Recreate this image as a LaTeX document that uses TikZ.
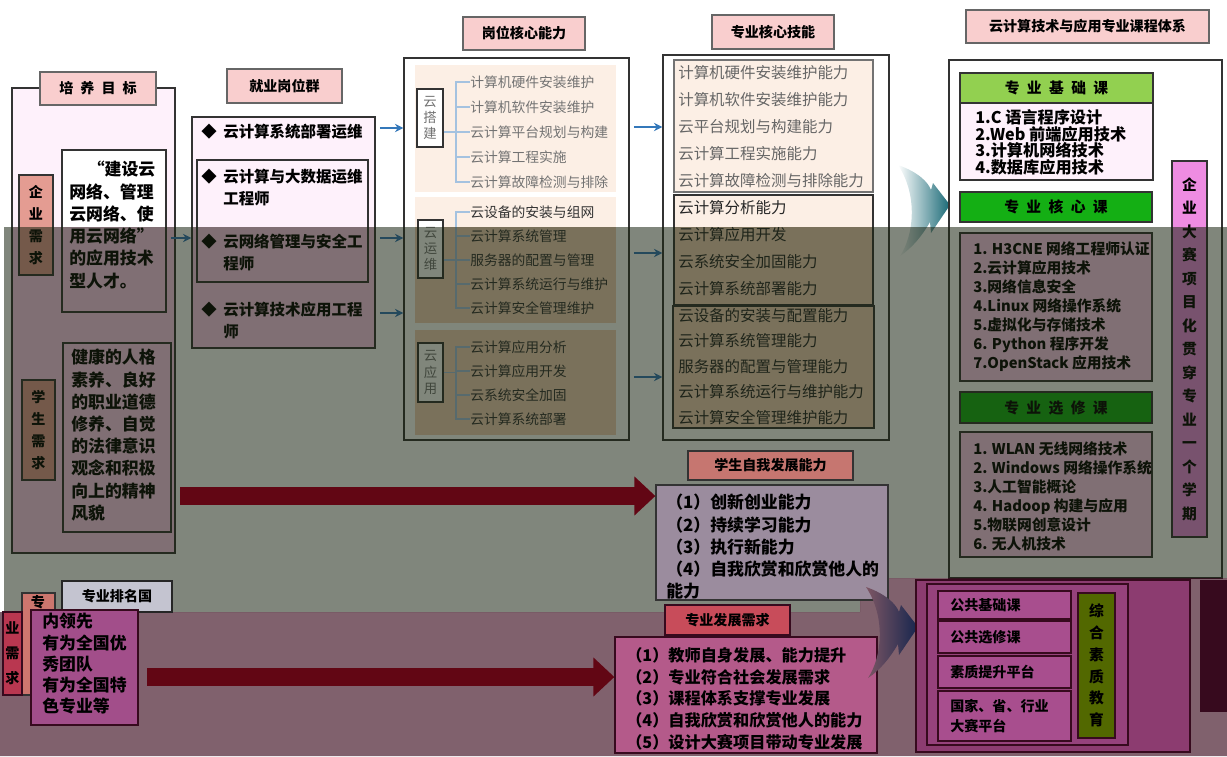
\documentclass[tikz,border=0pt]{standalone}
\usepackage{fontspec}
\setmainfont{Noto Sans CJK SC}
\usetikzlibrary{positioning,fit,calc,arrows.meta}

\definecolor{titlepink}{RGB}{249,206,206}
\definecolor{boxpink}{RGB}{254,241,251}
\definecolor{deeppink}{RGB}{255,205,238}
\definecolor{needred}{RGB}{228,156,146}
\definecolor{peach}{RGB}{252,239,229}
\definecolor{deeppeach}{RGB}{242,208,184}
\definecolor{arrowblue}{RGB}{52,120,186}
\definecolor{maroon}{RGB}{98,6,20}
\definecolor{basegreen}{RGB}{146,208,80}
\definecolor{coregreen}{RGB}{20,175,20}
\definecolor{barpink}{RGB}{238,140,226}
\definecolor{olivebar}{RGB}{82,104,0}
\definecolor{chevteal}{RGB}{25,105,118}
\definecolor{chevnavy}{RGB}{22,38,78}
\definecolor{grayshade}{RGB}{24,35,16}
\definecolor{rosyshade}{RGB}{50,0,20}
\definecolor{rosybg}{RGB}{125,86,100}
\definecolor{darkline}{RGB}{55,10,30}

\newcommand{\kg}{\hspace{0.5em}}
\newcommand{\pu}{0.025cm}

\tikzset{
  sz/.style 2 args={minimum width=#1*\pu, minimum height=#2*\pu},
  frame/.style={draw=black!80, line width=0.9pt, inner sep=0pt},
  headbox/.style={frame, draw=black!60, fill=titlepink, font=\bfseries\fontsize{10}{12}\selectfont},
  needlbl/.style={frame, fill=needred, align=center, font=\bfseries\fontsize{10}{15.5}\selectfont},
  goaltext/.style={anchor=north west, inner sep=0pt, align=left, font=\bfseries\fontsize{12}{15.8}\selectfont},
  jobtext/.style={anchor=north west, inner sep=0pt, align=left, font=\bfseries\fontsize{11}{15.3}\selectfont},
  corelbl/.style={frame, fill=white, align=center, text=black!55, font=\fontsize{9.5}{11.5}\selectfont},
  coreitem/.style={anchor=west, inner sep=0pt, text=black!55, font=\fontsize{9.8}{12}\selectfont},
  skillitem/.style={anchor=west, inner sep=0pt, text=black!60, font=\fontsize{11}{13}\selectfont},
  bracket/.style={draw=arrowblue!45, line width=0.8pt},
  smallarr/.style={draw=arrowblue, line width=1.6pt, -{Stealth[length=6pt,width=6pt]}, shorten <=3pt},
  bigarr/.style={draw=maroon, line width=13pt, -{Triangle[length=15pt,width=27pt]}},
  courselist/.style={anchor=north west, inner sep=0pt, align=left, font=\bfseries\fontsize{11.5}{11.9}\selectfont},
  coursehd/.style={frame, font=\bfseries\fontsize{10.5}{12}\selectfont},
  vbar/.style={frame, align=center, font=\bfseries\fontsize{10.5}{16.7}\selectfont},
  pubtext/.style={anchor=west, inner sep=0pt, align=left, font=\bfseries\fontsize{10}{14}\selectfont},
}

\begin{document}
\begin{tikzpicture}[x=0.025cm, y=-0.025cm]
\useasboundingbox (0,0) rectangle (1227,756);

% 培养目标
\fill[boxpink] (12,88) rectangle (175,227);
\fill[deeppink] (12,227) rectangle (175,553);
\node[frame, fit={(12,88) (175,553)}] (goal) {};
\node[headbox, sz={116}{33}] (goalhead) at (98,88.5) {培\kg 养\kg 目\kg 标};
\node[needlbl, sz={34}{100}] (entneed) at (36,225) {企\\业\\需\\求};
\node[needlbl, sz={33}{100}] (stuneed) at (38.5,430) {学\\生\\需\\求};
\fill[white] (62,150) rectangle (166,227);
\fill[deeppink] (62,227) rectangle (166,312);
\node[frame, fit={(62,150) (166,312)}] (goalbox) {};
\node[goaltext] (goaltxt) at (69,161) {\hspace*{1.1em}“建设云\\网络、管理\\云网络、使\\用云网络”\\的应用技术\\型人才。};
\node[frame, fill=deeppink, fit={(63,343) (171,532)}] (qualbox) {};
\node[goaltext] (qualtxt) at (71,349) {健康的人格\\素养、良好\\的职业道德\\修养、自觉\\的法律意识\\观念和积极\\向上的精神\\风貌};

% 就业岗位群
\node[headbox, sz={115}{34}] (jobhead) at (284.5,86) {就业岗位群};
\fill[boxpink] (192,117) rectangle (375,227);
\fill[deeppink] (192,227) rectangle (375,348);
\node[frame, fit={(192,117) (375,348)}] (jobs) {};
\node[frame, fit={(197,160) (368,282)}] (jobin) {};
\foreach \y/\t [count=\i] in {124/云计算系统部署运维, 169/云计算与大数据运维\\工程师, 234/云网络管理与安全工\\程师, 302/云计算技术应用工程\\师}{
  \node[jobtext] (job\i) at (223,\y) {\t};
  \node[anchor=north east, inner sep=0pt, font=\fontsize{11}{15.3}\selectfont] (dot\i) at (217,\y) {◆};
}
\coordinate (ya) at (0,238);
\draw[smallarr] (goalbox.east |- ya) -- (jobs.west |- ya);

% 岗位核心能力
\node[headbox, sz={122}{33}] (corehead) at (524,33.5) {岗位核心能力};
\node[frame, fill=white, fit={(404,58) (629,440)}] (core) {};
\node[fill=peach, inner sep=0pt, fit={(415,65) (616,192)}] (pan1) {};
\node[fill=deeppeach, inner sep=0pt, fit={(415,197) (616,323)}] (pan2) {};
\fill[peach] (pan2.north west) rectangle (pan2.east |- 0,227);
\node[fill=deeppeach, inner sep=0pt, fit={(415,330) (616,435)}] (pan3) {};
\node[corelbl, sz={26}{58}] (lbl1) at (430,118) {云\\搭\\建};
\node[corelbl, sz={25}{58}] (lbl2) at (430.5,249) {云\\运\\维};
\node[corelbl, sz={25}{59}] (lbl3) at (430.5,372.5) {云\\应\\用};
\foreach \t [count=\i] in {计算机硬件安装维护, 计算机软件安装维护, 云计算平台规划与构建, 云计算工程实施, 云计算故障检测与排除}
  \node[coreitem] (ca\i) at (470,57+25*\i) {\t};
\foreach \t [count=\i] in {云设备的安装与组网, 云计算系统管理, 服务器的配置与管理, 云计算系统运行与维护, 云计算安全管理维护}
  \node[coreitem, text=black!80] (cb\i) at (470,188+24*\i) {\t};
\foreach \t [count=\i] in {云计算应用分析, 云计算应用开发, 云系统安全加固, 云计算系统部署}
  \node[coreitem, text=black!80] (cc\i) at (470,323+24*\i) {\t};
% brackets
\coordinate (jx1) at ($(ca1.west)+(-14,0)$);
\draw[bracket] (ca1.west) -- (jx1) -- (jx1 |- ca5) -- (ca5.west);
\foreach \i in {2,3,4} \draw[bracket] (ca\i.west) -- (ca\i.west -| jx1);
\draw[bracket] (lbl1.east |- ca3) -- (ca3 -| jx1);
\coordinate (jx2) at ($(cb1.west)+(-14,0)$);
\draw[bracket] (cb1.west) -- (jx2) -- (jx2 |- cb5) -- (cb5.west);
\foreach \i in {2,3,4} \draw[bracket] (cb\i.west) -- (cb\i.west -| jx2);
\draw[bracket] (lbl2.east |- cb3) -- (cb3 -| jx2);
\coordinate (jx3) at ($(cc1.west)+(-14,0)$);
\draw[bracket] (cc1.west) -- (jx3) -- (jx3 |- cc4) -- (cc4.west);
\foreach \i in {2,3} \draw[bracket] (cc\i.west) -- (cc\i.west -| jx3);
\draw[bracket] (lbl3.east) -- (lbl3.east -| jx3);
\foreach \y in {128,238,313}{
  \coordinate (yb) at (0,\y);
  \draw[smallarr] (jobs.east |- yb) -- (core.west |- yb);
}

% 专业核心技能
\node[headbox, sz={122}{34}] (skillhead) at (773,32) {专业核心技能};
\node[frame, fill=white, fit={(663,55) (889,440)}] (skills) {};
\node[frame, draw=black!55, fill=peach, fit={(674,60) (873,192)}] (sk1) {};
\fill[peach] (674,195) rectangle (873,227);
\fill[deeppeach] (674,227) rectangle (873,305);
\node[frame, fit={(674,195) (873,305)}] (sk2) {};
\node[frame, fill=deeppeach, fit={(673,306) (874,428)}] (sk3) {};
\foreach \t [count=\i] in {计算机硬件安装维护能力, 计算机软件安装维护能力, 云平台规划与构建能力, 云计算工程实施能力, 云计算故障检测与排除能力}
  \node[skillitem] (sa\i) at (678,46+27*\i) {\t};
\foreach \t [count=\i] in {云计算分析能力, 云计算应用开发, 云系统安全加固能力, 云计算系统部署能力}
  \node[skillitem, text=black!85] (sb\i) at (678,181+27*\i) {\t};
\foreach \t [count=\i] in {云设备的安装与配置能力, 云计算系统管理能力, 服务器的配置与管理能力, 云计算系统运行与维护能力, 云计算安全管理维护能力}
  \node[skillitem, text=black!85] (sc\i) at (678,290+25.5*\i) {\t};
\foreach \y in {127,253,377}{
  \coordinate (yc) at (0,\y);
  \draw[smallarr] (core.east |- yc) -- (skills.west |- yc);
}
\shade[left color=white, right color=chevteal] (898,165) .. controls (918,172) and (928,182) .. (931,190) -- (933,183) -- (950,205) -- (931,233) -- (930,222) .. controls (922,236) and (912,248) .. (900,256) .. controls (914,235) and (918,195) .. (898,165) -- cycle;

% 课程体系
\node[headbox, sz={243}{33}] (coursehead) at (1087.5,26.5) {云计算技术与应用专业课程体系};
\node[frame, fill=white, fit={(949,60) (1222,578)}] (courses) {};
\node[coursehd, fill=basegreen, sz={193}{30}] (basehead) at (1056.5,88) {专\kg 业\kg 基\kg 础\kg 课};
\node[frame, fill=boxpink, fit={(960,103) (1153,180)}] (basebox) {};
\node[courselist] (baselist) at (975,109) {1.C 语言程序设计\\2.Web 前端应用技术\\3.计算机网络技术\\4.数据库应用技术};
\node[coursehd, fill=coregreen, sz={192}{30}] (corecshead) at (1056,207) {专\kg 业\kg 核\kg 心\kg 课};
\node[frame, fill=deeppink, fit={(960,233) (1152,381)}] (corecsbox) {};
\node[courselist, font=\bfseries\fontsize{10.5}{13.5}\selectfont] (corecslist) at (973,241) {1. H3CNE 网络工程师认证\\2.云计算应用技术\\3.网络信息安全\\4.Linux 网络操作系统\\5.虚拟化与存储技术\\6. Python 程序开发\\7.OpenStack 应用技术};
\node[coursehd, fill=coregreen, sz={192}{31}] (elechead) at (1056,407.5) {专\kg 业\kg 选\kg 修\kg 课};
\node[frame, fill=deeppink, fit={(960,432) (1152,557)}] (elecbox) {};
\node[courselist, font=\bfseries\fontsize{10.5}{13.5}\selectfont] (eleclist) at (973,441) {1. WLAN 无线网络技术\\2. Windows 网络操作系统\\3.人工智能概论\\4. Hadoop 构建与应用\\5.物联网创意设计\\6. 无人机技术};
\node[vbar, fill=barpink, sz={35}{376}] (projbar) at (1189.5,349) {企\\业\\大\\赛\\项\\目\\化\\贯\\穿\\专\\业\\一\\个\\学\\期};

% 遮暗区域
\fill[grayshade, opacity=0.55] (4,227) -- (1227,227) -- (1227,578) -- (860,578) -- (860,612) -- (4,612) -- cycle;
\fill[rosyshade, opacity=0.62] (860,578) -- (1227,578) -- (1227,756) -- (0,756) -- (0,612) -- (860,612) -- cycle;

% 学生自我发展能力
\node[headbox, draw=black!80, fill={rgb,255:red,198;green,118;blue,112}, sz={165}{29}] (abilhead) at (770.5,465.5) {学生自我发展能力};
\node[frame, fill={rgb,255:red,155;green,140;blue,158}, fit={(656,485) (888,600)}] (abil) {};
\node[anchor=north west, inner sep=0pt, align=left, font=\bfseries\fontsize{12}{15.8}\selectfont] (abiltxt) at (666,494) {（1）创新创业能力\\（2）持续学习能力\\（3）执行新能力\\（4）自我欣赏和欣赏他人的\\能力};
\coordinate (sa) at (180,496);
\draw[bigarr] (sa) -- (abil.west |- sa);

% 专业需求
\node[frame, fill={rgb,255:red,205;green,118;blue,110}, fit={(22,593) (55,695)}] (majneed) {};
\node[inner sep=0pt, font=\bfseries\fontsize{10}{12}\selectfont] (majtop) at (38,602) {专};
\node[frame, draw=darkline, fill={rgb,255:red,185;green,55;blue,80}, fit={(3,612) (22,695)}] (majstrip) {};
\node[align=center, inner sep=0pt, font=\bfseries\fontsize{10}{17.7}\selectfont] (majstriptxt) at (majstrip) {业\\需\\求};
\node[headbox, draw=black!85, fill={rgb,255:red,196;green,196;blue,208}, sz={110}{31}] (rankhead) at (117,596.5) {专业排名国};
\node[frame, draw=darkline, fill={rgb,255:red,162;green,78;blue,138}, fit={(31,610) (138,725)}] (rankbox) {};
\node[goaltext, font=\bfseries\fontsize{12}{15.1}\selectfont] (ranktxt) at (42,613) {内领先\\有为全国优\\秀团队\\有为全国特\\色专业等};

% 专业发展需求
\node[headbox, draw=darkline, fill={rgb,255:red,200;green,76;blue,90}, sz={125}{30}] (devhead) at (727.5,620) {专业发展需求};
\node[frame, draw=darkline, fill={rgb,255:red,180;green,90;blue,138}, fit={(615,637) (877,753)}] (dev) {};
\node[anchor=north west, inner sep=0pt, align=left, font=\bfseries\fontsize{11.5}{15.5}\selectfont] (devtxt) at (626,647) {（1）教师自身发展、能力提升\\（2）专业符合社会发展需求\\（3）课程体系支撑专业发展\\（4）自我欣赏和欣赏他人的能力\\（5）设计大赛项目带动专业发展};
\coordinate (da) at (147,677);
\draw[bigarr] (da) -- (dev.west |- da);

% 公共课程平台
\shade[shift={(-32,422)}, left color=rosybg, right color=chevnavy] (898,165) .. controls (918,172) and (928,182) .. (931,190) -- (933,183) -- (950,205) -- (931,233) -- (930,222) .. controls (922,236) and (912,248) .. (900,256) .. controls (914,235) and (918,195) .. (898,165) -- cycle;
\node[frame, draw=darkline, fill={rgb,255:red,140;green,60;blue,112}, fit={(916,580) (1190,752)}] (pubout) {};
\node[frame, draw=darkline, fill={rgb,255:red,150;green,66;blue,124}, fit={(927,584) (1128,745)}] (pubin) {};
\node[frame, draw=darkline, fill={rgb,255:red,168;green,78;blue,142}, fit={(938,591) (1071,619)}] (pub1) {};
\node[frame, draw=darkline, fill={rgb,255:red,168;green,78;blue,142}, fit={(938,621) (1071,653)}] (pub2) {};
\node[frame, draw=darkline, fill={rgb,255:red,168;green,78;blue,142}, fit={(938,656) (1071,688)}] (pub3) {};
\node[frame, draw=darkline, fill={rgb,255:red,168;green,78;blue,142}, fit={(938,691) (1071,741)}] (pub4) {};
\node[pubtext] (pubt1) at (950,605) {公共基础课};
\node[pubtext] (pubt2) at (950,637) {公共选修课};
\node[pubtext] (pubt3) at (950,672) {素质提升平台};
\node[pubtext] (pubt4) at (950,716) {国家、省、行业\\大赛平台};
\node[vbar, draw=darkline, fill=olivebar, sz={37}{145}, font=\bfseries\fontsize{10.5}{15.5}\selectfont] (qualbar) at (1096.5,665.5) {综\\合\\素\\质\\教\\育};
\fill[darkline] (1200,580) rectangle (1227,712);

\end{tikzpicture}
\end{document}
